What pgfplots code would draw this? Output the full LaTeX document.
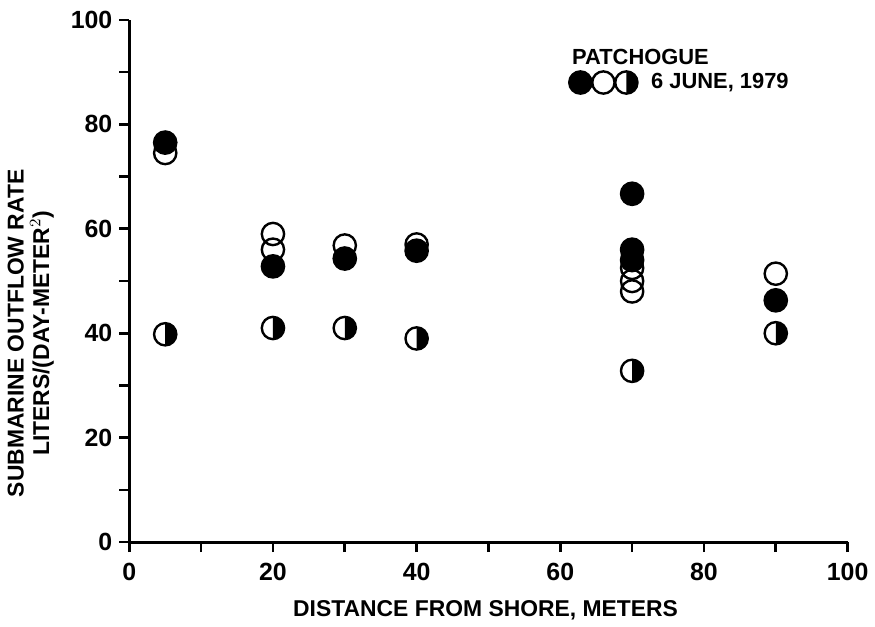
\documentclass[border=0pt]{standalone}
\usepackage{pgfplots}
\pgfplotsset{compat=1.18}
\usepackage{fontspec}
\setmainfont{Liberation Sans}
\pgfdeclareplotmark{halfright}{%
  \pgfpathmoveto{\pgfqpoint{0pt}{\pgfplotmarksize}}%
  \pgfpatharc{90}{-90}{\pgfplotmarksize}%
  \pgfpathclose
  \pgfusepathqfill
  \pgfpathcircle{\pgfpointorigin}{\pgfplotmarksize}%
  \pgfusepathqstroke
}
\begin{document}
\begin{tikzpicture}
\begin{axis}[
  scale only axis, width=361pt, height=262.5pt,
  xmin=0, xmax=100, ymin=0, ymax=100,
  axis x line=bottom, axis y line=left,
  axis line style={-, line width=1.5pt},
  tick align=outside,
  xtick={0,20,...,100}, minor xtick={10,30,...,90},
  ytick={0,20,...,100}, minor ytick={10,30,...,90},
  major tick length=5pt, minor tick length=5pt,
  tick style={line width=1.3pt, black},
  /pgf/number format/assume math mode=true,
  ticklabel style={font=\bfseries\fontsize{12.5}{14}\selectfont},
  xticklabel style={yshift=-2pt},
  xlabel={DISTANCE FROM SHORE, METERS},
  xlabel style={font=\bfseries\fontsize{11.5}{13}\selectfont, at={(axis description cs:0.496,-0.131)}, anchor=center},
  ylabel={\begin{tabular}{c}SUBMARINE OUTFLOW RATE\\LITERS/(DAY-METER$^{2}$)\end{tabular}},
  ylabel style={font=\bfseries\fontsize{11.5}{11}\selectfont, at={(axis description cs:-0.136,0.4)}, anchor=center, rotate=0},
  clip=false,
]
\path (axis description cs:-0.18,-0.162) rectangle (axis description cs:1.032,1.038);
% open circles
\addplot[only marks, mark=o, mark size=5.6pt, mark options={line width=1.2pt, fill=white, draw=black}] coordinates {
 (5,74.5) (20,59) (20,56) (30,56.8) (40,57) (70,52.5) (70,50) (70,48) (90,51.4) (66.0,88)
};
% filled circles
\addplot[only marks, mark=*, mark size=5.6pt, mark options={line width=1.2pt, fill=black, draw=black}] coordinates {
 (5,76.5) (20,52.8) (30,54.3) (40,55.8) (70,66.7) (70,56) (70,54) (90,46.3) (62.8,88)
};
% half-filled circles
\addplot[only marks, mark=halfright, mark size=5.6pt, mark options={line width=1.2pt, fill=black, draw=black}] coordinates {
 (5,39.8) (20,41) (30,41) (40,39) (70,32.8) (90,40) (69.2,88)
};
\node[anchor=west, font=\bfseries\fontsize{11}{12}\selectfont, inner sep=0pt] at (axis cs:61.6,92.8) {PATCHOGUE};
\node[anchor=west, font=\bfseries\fontsize{11}{12}\selectfont, inner sep=0pt] at (axis cs:72.6,88) {6 JUNE, 1979};
\end{axis}
\end{tikzpicture}
\end{document}
